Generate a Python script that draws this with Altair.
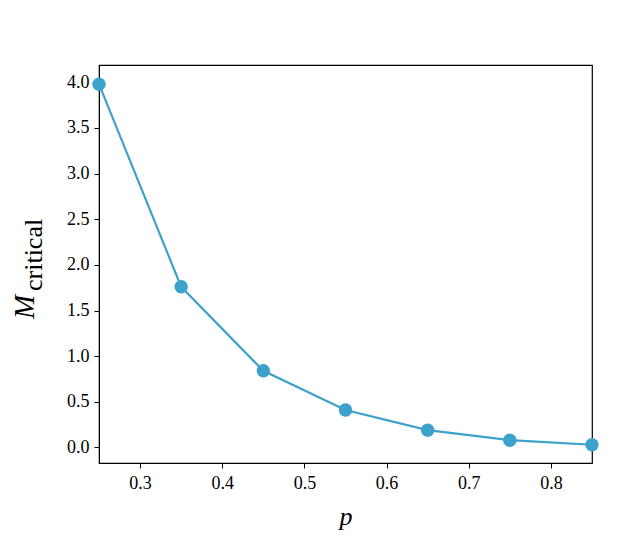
import altair as alt
import pandas as pd

p_vals = [0.25, 0.35, 0.45, 0.55, 0.65, 0.75, 0.85]
m_crit = [3.98, 1.76, 0.84, 0.41, 0.19, 0.08, 0.03]
x_ticks = [0.3, 0.4, 0.5, 0.6, 0.7, 0.8]
y_ticks = [0.0, 0.5, 1.0, 1.5, 2.0, 2.5, 3.0, 3.5, 4.0]

df = pd.DataFrame({"p": p_vals, "M": m_crit})
color = "#3DA2CB"
font = "Liberation Serif"

x_enc = alt.X("p:Q", scale=alt.Scale(domain=[0.25, 0.85], nice=False, zero=False),
              axis=alt.Axis(values=x_ticks, format=".1f", title="p", titleFontStyle="italic",
                            titleFontSize=26, titleFontWeight="normal", titlePadding=11,
                            grid=False, labelFontSize=18, tickSize=5, labelPadding=6,
                            domainColor="black", tickColor="black", labelColor="black",
                            labelFont=font, titleFont=font, titleColor="black"))
y_enc = alt.Y("M:Q", scale=alt.Scale(domain=[-0.17, 4.19], nice=False, zero=False),
              axis=alt.Axis(values=y_ticks, format=".1f", title=None, grid=False,
                            labelFontSize=18, tickSize=5, labelPadding=5,
                            domainColor="black", tickColor="black", labelColor="black",
                            labelFont=font))

line = alt.Chart(df).mark_line(color=color, strokeWidth=2.2, clip=False).encode(x=x_enc, y=y_enc)
pts = alt.Chart(df).mark_circle(color=color, size=180, opacity=1, clip=False).encode(x=x_enc, y=y_enc)

title_df = pd.DataFrame({"t": ["M"]})
t_main = alt.Chart(title_df).mark_text(font=font, fontSize=29, fontStyle="italic", angle=270,
                                       color="black").encode(
    text="t:N", x=alt.value(-74), y=alt.value(242))
sub_df = pd.DataFrame({"t": ["critical"]})
t_sub = alt.Chart(sub_df).mark_text(font=font, fontSize=26, angle=270, color="black",
                                    align="left").encode(
    text="t:N", x=alt.value(-65), y=alt.value(226))

chart = alt.layer(line, pts, t_main, t_sub).properties(
    width=493, height=398,
    autosize=alt.AutoSizeParams(type="none"),
    padding={"left": 91, "top": 57, "right": 23, "bottom": 80},
).configure(background="white").configure_view(stroke="black", strokeWidth=1.2)

chart.save("out.html", embed_options={"renderer": "svg", "actions": False})
